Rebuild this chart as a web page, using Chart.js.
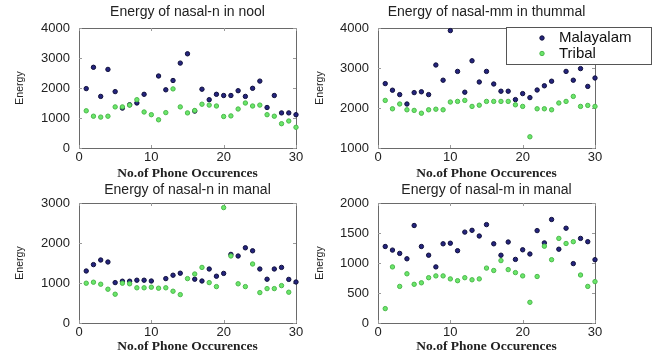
<!DOCTYPE html>
<html>
<head>
<meta charset="utf-8">
<script src="https://cdn.jsdelivr.net/npm/chart.js@4.4.0/dist/chart.umd.min.js"></script>
<style>
  body { margin: 0; background: #fff; }
  #wrap { position: relative; width: 656px; height: 353px; overflow: hidden; background: #fff; }
  canvas { position: absolute; }
</style>
</head>
<body>
<div id="wrap">
  <canvas id="noolChart" width="320" height="182" style="left:0;top:0"></canvas>
  <canvas id="thummalChart" width="348" height="182" style="left:308px;top:0"></canvas>
  <canvas id="manalNChart" width="320" height="173" style="left:0;top:180px"></canvas>
  <canvas id="manalMChart" width="348" height="173" style="left:308px;top:180px"></canvas>
</div>
<script>
const occurrences = [1, 2, 3, 4, 5, 6, 7, 8, 9, 10, 11, 12, 13, 14, 15,
                     16, 17, 18, 19, 20, 21, 22, 23, 24, 25, 26, 27, 28, 29, 30];

// nasal-n in nool
const noolMalayalam = [1980, 2690, 1720, 2620, 1880, 1330, 1440, 1500, 1790, null, 2400, 1940, 2250, 2830, 3140,
                       1230, 1960, 1610, 1790, 1750, 1750, 1910, 1720, 1990, 2230, 1350, 1750, 1170, 1170, 1110];
const noolTribal = [1240, 1060, 1030, 1060, 1370, 1370, 1430, 1610, 1200, 1110, 940, 1180, 1970, 1370, 1170,
                    1250, 1460, 1430, 1400, 1050, 1070, 1300, 1500, 1400, 1430, 1110, 1060, 810, 900, 690];

// nasal-mm in thummal
const thummalMalayalam = [2610, 2445, 2335, 2100, 2385, 2405, 2335, 3075, 2695, 3935, 2915, 2395, 3180, 2650, 2915,
                          2600, 2420, 2420, 2210, 2360, 2260, 2450, 2555, 2670, null, 2915, 2695, 2985, 2540, 2750];
const thummalTribal = [2190, 1980, 2100, 1955, 1940, 1870, 1955, 1970, 1955, 2150, 2165, 2190, 2040, 2070, 2165,
                       2165, 2165, 2165, 2080, 2040, 1280, 1980, 1980, 1955, 2125, 2165, 2290, 2040, 2065, 2040];

// nasal-n in manal
const manalNMalayalam = [1300, 1460, 1575, 1525, 1010, 1045, 1045, 1070, 1070, 1050, null, 1110, 1195, 1245, null,
                         1095, 1050, 1350, 1170, 1240, 1715, 1675, 1880, 1805, 1350, 1095, 1350, 1390, 1090, 1025];
const manalNTribal = [995, 1020, 970, 845, 720, 995, 980, 880, 880, 895, 870, 880, 795, 710, 1110,
                      1225, 1390, 1010, 910, 2885, 1675, 980, 910, 1475, 760, 860, 860, 935, 770, null];

// nasal-m in manal
const manalMMalayalam = [1275, 1215, 1160, 1070, 1625, 1275, 1130, 935, 1320, 1330, 1205, 1515, 1545, 1450, 1640,
                         1320, 1130, 1350, 1060, 1220, 1150, 1540, 1335, 1725, 1230, 1580, 990, 1410, 1355, 1055];
const manalMTribal = [240, 935, 610, 820, 645, 670, 755, 785, 785, 735, 705, 755, 720, 735, 915,
                      875, 1040, 890, 840, 785, 345, 775, 1280, 1055, 1410, 1325, 1355, 800, 610, 690];

const seriesNames = ['Malayalam', 'Tribal'];
const xTicks = [0, 10, 20, 30];

const sans = 'Liberation Sans, Arial, sans-serif';
const serif = 'Liberation Serif, Times New Roman, serif';

// box round the axes with inward tick marks on all four sides
const axesBox = {
  id: 'axesBox',
  beforeDatasetsDraw(chart) {
    const {ctx, chartArea: a, scales} = chart;
    ctx.save();
    ctx.strokeStyle = '#6a6a6a';
    ctx.lineWidth = 1;
    ctx.strokeRect(a.left + 0.5, a.top + 0.5, a.right - a.left, a.bottom - a.top);
    ctx.strokeStyle = '#9a9a9a';
    ctx.beginPath();
    scales.x.ticks.forEach(t => {
      const px = Math.round(scales.x.getPixelForValue(t.value)) + 0.5;
      ctx.moveTo(px, a.bottom); ctx.lineTo(px, a.bottom - 3);
      ctx.moveTo(px, a.top); ctx.lineTo(px, a.top + 3);
    });
    scales.y.ticks.forEach(t => {
      const py = Math.round(scales.y.getPixelForValue(t.value)) + 0.5;
      ctx.moveTo(a.left, py); ctx.lineTo(a.left + 3, py);
      ctx.moveTo(a.right, py); ctx.lineTo(a.right - 3, py);
    });
    ctx.stroke();
    ctx.restore();
  }
};

// legend box sitting over the top right corner of the plot
const cornerLegend = {
  id: 'cornerLegend',
  afterDraw(chart, args, opts) {
    if (!opts.show) return;
    const {ctx, chartArea: a} = chart;
    const left = a.right - 89, top = a.top - 1, w = 145, h = 37;
    ctx.save();
    ctx.fillStyle = '#fff';
    ctx.fillRect(left, top, w, h);
    ctx.strokeStyle = '#555';
    ctx.lineWidth = 1;
    ctx.strokeRect(left + 0.5, top + 0.5, w, h);
    ctx.font = '15px ' + sans;
    ctx.textBaseline = 'middle';
    chart.data.datasets.forEach((ds, i) => {
      const y = top + 11 + i * 15.5;
      ctx.beginPath();
      ctx.arc(left + 36, y, 2.2, 0, Math.PI * 2);
      ctx.fillStyle = ds.pointBackgroundColor;
      ctx.fill();
      ctx.strokeStyle = ds.pointBorderColor;
      ctx.stroke();
      ctx.fillStyle = '#111';
      ctx.fillText(ds.label, left + 53, y);
    });
    ctx.restore();
  }
};

function points(values) {
  return occurrences.map((x, i) => ({x: x, y: values[i]}));
}

function makePanel(id, opts) {
  const ctx = document.getElementById(id).getContext('2d');
  return new Chart(ctx, {
    type: 'scatter',
    data: {
      datasets: [
        {
          label: seriesNames[0],
          data: points(opts.malayalam),
          pointRadius: 2.2,
          pointBackgroundColor: '#24247e',
          pointBorderColor: '#10103c',
          pointBorderWidth: 1,
          clip: false,
          order: 1
        },
        {
          label: seriesNames[1],
          data: points(opts.tribal),
          pointRadius: 2.2,
          pointBackgroundColor: '#6ae66a',
          pointBorderColor: '#4cb84c',
          pointBorderWidth: 1,
          clip: false,
          order: 0
        }
      ]
    },
    options: {
      responsive: false,
      animation: false,
      events: [],
      layout: {padding: {right: opts.padRight, left: 0, top: 0, bottom: 0}},
      plugins: {
        legend: {display: false},
        tooltip: {enabled: false},
        cornerLegend: {show: !!opts.legend},
        title: {
          display: true,
          fullSize: false,
          text: opts.title,
          color: '#222',
          font: {family: sans, size: 14, weight: 'normal', lineHeight: 1},
          padding: {top: opts.titleTop, bottom: opts.titleBottom}
        }
      },
      scales: {
        x: {
          type: 'linear',
          min: 0,
          max: 30,
          afterBuildTicks: s => { s.ticks = xTicks.map(v => ({value: v})); },
          afterFit: s => { s.height = opts.xHeight; },
          grid: {display: false, drawTicks: false},
          border: {display: false},
          ticks: {color: '#222', padding: opts.xTickPad, font: {family: sans, size: 13},
                  callback: v => String(v)},
          title: {
            display: true,
            text: 'No.of Phone Occurences',
            color: '#222',
            font: {family: serif, size: 13.5, weight: 'bold', lineHeight: 1},
            padding: {top: 0, bottom: opts.xTitlePad}
          }
        },
        y: {
          min: opts.yMin,
          max: opts.yMax,
          afterBuildTicks: s => { s.ticks = opts.yTicks.map(v => ({value: v})); },
          afterFit: s => { s.width = opts.yWidth; },
          grid: {display: false, drawTicks: false},
          border: {display: false},
          ticks: {color: '#222', padding: 9, font: {family: sans, size: 13},
                  callback: v => String(v)},
          title: {
            display: true,
            text: 'Energy',
            color: '#222',
            font: {family: sans, size: 10.5, lineHeight: 1},
            padding: {top: opts.yTitlePad, bottom: 0}
          }
        }
      }
    },
    plugins: [axesBox, cornerLegend]
  });
}

makePanel('noolChart', {
  title: 'Energy of nasal-n in nool',
  malayalam: noolMalayalam, tribal: noolTribal,
  yMin: 0, yMax: 4000, yTicks: [0, 1000, 2000, 3000, 4000],
  padRight: 24, yWidth: 79, xHeight: 34,
  titleTop: 5, titleBottom: 9, xTickPad: 2, xTitlePad: 2, yTitlePad: 14.5
});

makePanel('thummalChart', {
  title: 'Energy of nasal-mm in thummal',
  malayalam: thummalMalayalam, tribal: thummalTribal,
  yMin: 1000, yMax: 4000, yTicks: [1000, 2000, 3000, 4000],
  padRight: 61, yWidth: 70, xHeight: 34, legend: true,
  titleTop: 5, titleBottom: 9, xTickPad: 2, xTitlePad: 2, yTitlePad: 6.5
});

makePanel('manalNChart', {
  title: 'Energy of nasal-n in manal',
  malayalam: manalNMalayalam, tribal: manalNTribal,
  yMin: 0, yMax: 3000, yTicks: [0, 1000, 2000, 3000],
  padRight: 24, yWidth: 79, xHeight: 30,
  titleTop: 3, titleBottom: 6, xTickPad: 2, xTitlePad: 0, yTitlePad: 14.5
});

makePanel('manalMChart', {
  title: 'Energy of nasal-m in manal',
  malayalam: manalMMalayalam, tribal: manalMTribal,
  yMin: 0, yMax: 2000, yTicks: [0, 500, 1000, 1500, 2000],
  padRight: 61, yWidth: 70, xHeight: 30,
  titleTop: 3, titleBottom: 6, xTickPad: 2, xTitlePad: 0, yTitlePad: 6.5
});
</script>
</body>
</html>
